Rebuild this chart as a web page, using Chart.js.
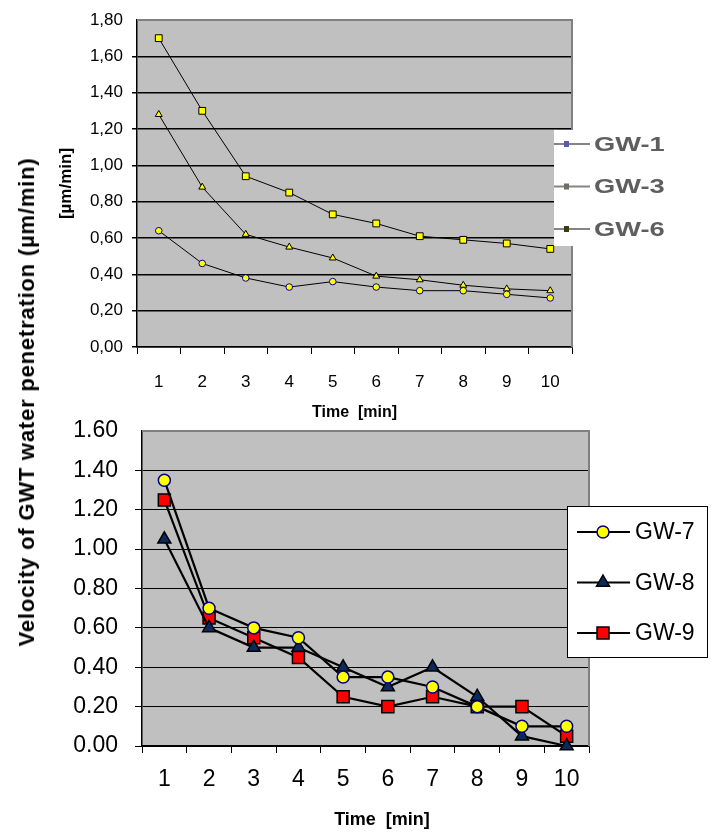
<!DOCTYPE html>
<html>
<head>
<meta charset="utf-8">
<script src="https://cdn.jsdelivr.net/npm/chart.js@4.4.1/dist/chart.umd.min.js"></script>
<style>
  body { margin: 0; background: #fff; }
  #wrap { position: relative; width: 711px; height: 834px; font-family: Arial, "Liberation Sans", sans-serif; }
  #topChart { position: absolute; left: 0; top: 0; }
  #bottomChart { position: absolute; left: 0; top: 400px; }
  #yTitle {
    position: absolute; left: 27px; top: 402px;
    transform: translate(-50%, -50%) rotate(-90deg);
    white-space: nowrap; font-weight: bold; font-size: 22px; letter-spacing: 0.8px; color: #000;
  }
</style>
</head>
<body>
<div id="wrap">
  <canvas id="topChart" width="711" height="425"></canvas>
  <canvas id="bottomChart" width="711" height="434"></canvas>
  <div id="yTitle">Velocity of GWT water penetration (µm/min)</div>
</div>

<script>
/* ========= Data ========= */
const minutes = ['1', '2', '3', '4', '5', '6', '7', '8', '9', '10'];

const topLabels = ['GW-1', 'GW-3', 'GW-6'];
const gw1 = [0.64, 0.46, 0.38, 0.33, 0.36, 0.33, 0.31, 0.31, 0.29, 0.27];
const gw3 = [1.28, 0.88, 0.62, 0.55, 0.49, 0.39, 0.37, 0.34, 0.32, 0.31];
const gw6 = [1.70, 1.30, 0.94, 0.85, 0.73, 0.68, 0.61, 0.59, 0.57, 0.54];

const bottomLabels = ['GW-7', 'GW-8', 'GW-9'];
const gw7 = [1.35, 0.70, 0.60, 0.55, 0.35, 0.35, 0.30, 0.20, 0.10, 0.10];
const gw8 = [1.05, 0.60, 0.50, 0.50, 0.40, 0.30, 0.40, 0.25, 0.05, 0.00];
const gw9 = [1.25, 0.65, 0.55, 0.45, 0.25, 0.20, 0.25, 0.20, 0.20, 0.05];

const FONT = 'Arial, "Liberation Sans", sans-serif';

// Helper: marker shapes like Chart.js point styles
function drawMarker(ctx, style, x, y, r, fill, stroke, lw) {
  ctx.save();
  ctx.fillStyle = fill;
  ctx.strokeStyle = stroke;
  ctx.lineWidth = lw;
  ctx.beginPath();
  if (style === 'circle') {
    ctx.arc(x, y, r, 0, Math.PI * 2);
  } else if (style === 'triangle') {
    ctx.moveTo(x, y - r);
    ctx.lineTo(x + r * 0.866, y + r / 2);
    ctx.lineTo(x - r * 0.866, y + r / 2);
    ctx.closePath();
  } else {
    const s = r / Math.SQRT2;
    ctx.rect(x - s, y - s, 2 * s, 2 * s);
  }
  ctx.fill();
  ctx.stroke();
  ctx.restore();
}

// grey plot area + grey top/right frame
const plotFrame = {
  id: 'plotFrame',
  beforeDraw(chart) {
    const { ctx, chartArea: a } = chart;
    ctx.save();
    ctx.fillStyle = '#c0c0c0';
    ctx.fillRect(a.left, a.top, a.right - a.left, a.bottom - a.top);
    ctx.restore();
  },
  beforeDatasetsDraw(chart) {
    const { ctx, chartArea: a } = chart;
    ctx.save();
    ctx.strokeStyle = '#808080';
    ctx.lineWidth = 2;
    ctx.beginPath();
    ctx.moveTo(a.left, a.top);
    ctx.lineTo(a.right, a.top);
    ctx.lineTo(a.right, a.bottom);
    ctx.stroke();
    ctx.restore();
  }
};

// top chart: washed-out legend
const topLegend = {
  id: 'topLegend',
  afterDraw(chart) {
    const ctx = chart.ctx;
    const markColors = ['#5b5ba8', '#6e6e62', '#3b3a12'];
    ctx.save();
    ctx.fillStyle = '#fff';
    ctx.fillRect(554, 130, 157, 116);
    chart.data.datasets.forEach((ds, i) => {
      const y = 144 + i * 42.5;
      ctx.strokeStyle = '#858585';
      ctx.lineWidth = 2;
      ctx.beginPath();
      ctx.moveTo(554, y);
      ctx.lineTo(590, y);
      ctx.stroke();
      ctx.fillStyle = markColors[i];
      ctx.fillRect(564, y - 3, 5, 6);
      ctx.save();
      ctx.filter = 'blur(0.7px)';
      ctx.translate(594, y);
      ctx.scale(1.3, 1);
      ctx.fillStyle = '#5e5e5e';
      ctx.font = 'bold 21px ' + FONT;
      ctx.textBaseline = 'middle';
      ctx.fillText(ds.label, 0, 1);
      ctx.restore();
    });
    ctx.restore();
  }
};

// bottom chart: boxed legend + x title (canvas starts at page y=400)
const bottomLegend = {
  id: 'bottomLegend',
  afterDraw(chart) {
    const ctx = chart.ctx;
    ctx.save();
    ctx.fillStyle = '#fff';
    ctx.strokeStyle = '#000';
    ctx.lineWidth = 1;
    ctx.fillRect(567, 106, 140, 151);
    ctx.strokeRect(567.5, 106.5, 140, 151);
    chart.data.datasets.forEach((ds, i) => {
      const y = 132 + i * 50.5;
      ctx.strokeStyle = '#000';
      ctx.lineWidth = 2;
      ctx.beginPath();
      ctx.moveTo(577, y);
      ctx.lineTo(630, y);
      ctx.stroke();
      drawMarker(ctx, ds.pointStyle, 603, y, ds.pointRadius, ds.pointBackgroundColor, ds.pointBorderColor, ds.pointBorderWidth);
      ctx.fillStyle = '#000';
      ctx.font = '23px ' + FONT;
      ctx.textBaseline = 'middle';
      ctx.fillText(ds.label, 635, y + 1);
    });
    ctx.font = 'bold 18px ' + FONT;
    ctx.textAlign = 'center';
    ctx.textBaseline = 'middle';
    ctx.fillText('Time  [min]', 382, 420);
    ctx.restore();
  }
};


/* ========= Top chart ========= */
new Chart(document.getElementById('topChart'), {
  type: 'line',
  data: {
    labels: minutes,
    datasets: [
      { label: topLabels[0], data: gw1, borderColor: '#000', borderWidth: 1, pointStyle: 'circle', pointRadius: 3.3,
        pointBackgroundColor: '#ffff00', pointBorderColor: '#0000a0', pointBorderWidth: 1, tension: 0, clip: false },
      { label: topLabels[1], data: gw3, borderColor: '#000', borderWidth: 1, pointStyle: 'triangle', pointRadius: 4,
        pointBackgroundColor: '#ffff00', pointBorderColor: '#000', pointBorderWidth: 1, tension: 0, clip: false },
      { label: topLabels[2], data: gw6, borderColor: '#000', borderWidth: 1, pointStyle: 'rect', pointRadius: 4.8,
        pointBackgroundColor: '#ffff00', pointBorderColor: '#000', pointBorderWidth: 1, tension: 0, clip: false }
    ]
  },
  options: {
    responsive: false,
    animation: false,
    layout: { autoPadding: false, padding: { top: 20, right: 139, left: 0, bottom: 0 } },
    plugins: { legend: { display: false }, tooltip: { enabled: false } },
    scales: {
      x: {
        offset: true,
        afterFit: s => { s.height = 78; },
        grid: { offset: true, drawOnChartArea: false, color: '#000', lineWidth: 1, tickLength: 7 },
        border: { color: '#000', width: 1.5 },
        ticks: { color: '#000', font: { family: FONT, size: 17 }, padding: 18, maxRotation: 0 },
        title: { display: true, text: 'Time  [min]', color: '#000', font: { family: FONT, size: 16, weight: 'bold' }, padding: { top: 0, bottom: 3 } }
      },
      y: {
        min: 0, max: 1.8,
        afterFit: s => { s.width = 137; },
        grid: { color: c => c.tick.value >= 1.8 ? 'rgba(0,0,0,0)' : '#000', lineWidth: 1.5, tickLength: 5 },
        border: { color: '#000', width: 1.5 },
        ticks: { stepSize: 0.2, color: '#000', font: { family: FONT, size: 17 }, padding: 9,
          callback: v => v.toFixed(2).replace('.', ',') },
        title: { display: true, text: '[µm/min]', color: '#000', font: { family: FONT, size: 17, weight: 'bold' }, padding: { top: 56, bottom: 0 } }
      }
    }
  },
  plugins: [plotFrame, topLegend]
});


/* ========= Bottom chart ========= */
new Chart(document.getElementById('bottomChart'), {
  type: 'line',
  data: {
    labels: minutes,
    datasets: [
      { label: bottomLabels[0], data: gw7, borderColor: '#000', borderWidth: 2.2, pointStyle: 'circle', pointRadius: 6,
        pointBackgroundColor: '#ffff00', pointBorderColor: '#000080', pointBorderWidth: 1.5, tension: 0, clip: false },
      { label: bottomLabels[1], data: gw8, borderColor: '#000', borderWidth: 2.2, pointStyle: 'triangle', pointRadius: 7.5,
        pointBackgroundColor: '#0b2a5c', pointBorderColor: '#000', pointBorderWidth: 1.5, tension: 0, clip: false },
      { label: bottomLabels[2], data: gw9, borderColor: '#000', borderWidth: 2.2, pointStyle: 'rect', pointRadius: 8.5,
        pointBackgroundColor: '#ff0000', pointBorderColor: '#000', pointBorderWidth: 1.5, tension: 0, clip: false }
    ]
  },
  options: {
    responsive: false,
    animation: false,
    layout: { autoPadding: false, padding: { top: 31, right: 122, left: 0, bottom: 0 } },
    plugins: { legend: { display: false }, tooltip: { enabled: false } },
    scales: {
      x: {
        offset: true,
        afterFit: s => { s.height = 88; },
        grid: { offset: true, drawOnChartArea: false, color: '#000', lineWidth: 1, tickLength: 7 },
        border: { color: '#000', width: 1.5 },
        ticks: { color: '#000', font: { family: FONT, size: 23 }, padding: 13, maxRotation: 0 }
      },
      y: {
        min: 0, max: 1.6,
        afterFit: s => { s.width = 142; },
        grid: { color: c => c.tick.value >= 1.6 ? 'rgba(0,0,0,0)' : '#000', lineWidth: 1, tickLength: 7 },
        border: { color: '#000', width: 1.5 },
        ticks: { stepSize: 0.2, color: '#000', font: { family: FONT, size: 23 }, padding: 17,
          callback: v => v.toFixed(2) }
      }
    }
  },
  plugins: [plotFrame, bottomLegend]
});
</script>
</body>
</html>
